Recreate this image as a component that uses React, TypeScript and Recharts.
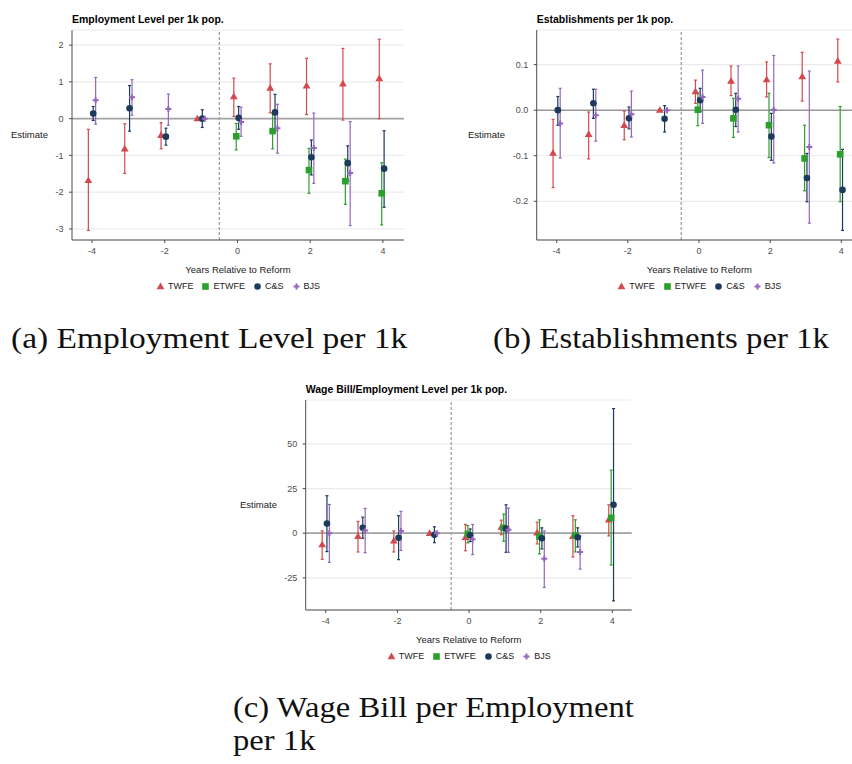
import React from 'react';
import { ComposedChart, Scatter, ErrorBar, XAxis, YAxis, CartesianGrid, ReferenceLine, Legend } from 'recharts';

const periods = [-4, -3, -2, -1, 0, 1, 2, 3, 4];
const methods = ['TWFE', 'ETWFE', 'C&S', 'BJS'];
const methodColors = ['#d2494f', '#2ca02c', '#1b3a5c', '#9467bd'];
const methodShift = [-0.1, -0.033, 0.033, 0.1];

// (a) employment level per 1k
const empTwfe = [-1.68, -0.82, -0.45, 0, 0.6, 0.83, 0.89, 0.95, 1.09];
const empTwfeLo = [-3.04, -1.49, -0.82, null, 0.06, 0.16, 0.11, -0.04, 0.0];
const empTwfeHi = [-0.29, -0.14, -0.11, null, 1.1, 1.49, 1.64, 1.91, 2.16];
const empEtwfe = [null, null, null, null, -0.48, -0.34, -1.4, -1.7, -2.03];
const empEtwfeLo = [null, null, null, null, -0.85, -0.82, -2.03, -2.33, -2.89];
const empEtwfeHi = [null, null, null, null, -0.13, 0.14, -0.81, -1.1, -1.2];
const empCs = [0.14, 0.28, -0.49, 0.0, 0.02, 0.17, -1.05, -1.21, -1.36];
const empCsLo = [-0.05, -0.34, -0.72, -0.24, -0.29, -0.34, -1.53, -1.69, -2.41];
const empCsHi = [0.33, 0.9, -0.26, 0.24, 0.33, 0.66, -0.58, -0.74, -0.33];
const empBjs = [0.5, 0.58, 0.26, 0, -0.09, -0.26, -0.8, -1.48, null];
const empBjsLo = [-0.15, 0.09, -0.18, null, -0.48, -0.94, -1.76, -2.91, null];
const empBjsHi = [1.12, 1.06, 0.67, null, 0.31, 0.39, 0.15, -0.08, null];

// (b) establishments per 1k
const estTwfe = [-0.094, -0.053, -0.033, 0, 0.041, 0.064, 0.067, 0.074, 0.108];
const estTwfeLo = [-0.17, -0.107, -0.065, null, 0.015, 0.032, 0.029, 0.02, 0.062];
const estTwfeHi = [-0.02, -0.004, -0.002, null, 0.066, 0.097, 0.106, 0.127, 0.156];
const estEtwfe = [null, null, null, null, 0.001, -0.018, -0.033, -0.106, -0.097];
const estEtwfeLo = [null, null, null, null, -0.034, -0.06, -0.104, -0.177, -0.201];
const estEtwfeHi = [null, null, null, null, 0.038, 0.026, 0.037, -0.033, 0.008];
const estCs = [0.0, 0.015, -0.018, -0.019, 0.022, 0.001, -0.058, -0.149, -0.175];
const estCsLo = [-0.033, -0.018, -0.041, -0.048, -0.003, -0.036, -0.11, -0.201, -0.264];
const estCsHi = [0.03, 0.046, 0.007, 0.01, 0.048, 0.037, -0.007, -0.095, -0.086];
const estBjs = [-0.029, -0.011, -0.009, 0, 0.029, 0.025, 0.001, -0.081, null];
const estBjsLo = [-0.105, -0.068, -0.059, null, -0.029, -0.048, -0.116, -0.248, null];
const estBjsHi = [0.048, 0.046, 0.042, null, 0.088, 0.097, 0.12, 0.086, null];

// (c) wage bill / employment
const wageTwfe = [-6.4, -1.7, -4.3, 0, -2.3, 3.4, 0.2, -1.7, 7.5];
const wageTwfeLo = [-14.6, -10.5, -10.5, null, -9.8, -0.8, -6.0, -13.3, -1.5];
const wageTwfeHi = [1.3, 6.6, 1.3, null, 4.9, 7.3, 6.2, 9.8, 15.9];
const wageEtwfe = [null, null, null, null, -0.4, 3.0, -1.9, -1.3, 8.6];
const wageEtwfeLo = [null, null, null, null, -5.4, -4.5, -11.6, -10.5, -17.8];
const wageEtwfeHi = [null, null, null, null, 4.3, 10.7, 7.5, 7.5, 35.3];
const wageCs = [5.4, 3.0, -2.6, -0.9, -1.1, 2.6, -2.8, -2.3, 15.9];
const wageCsLo = [-10.3, -2.8, -14.8, -5.3, -4.7, -10.7, -8.8, -7.7, -37.9];
const wageCsHi = [21.0, 9.0, 9.8, 3.6, 2.4, 15.9, 3.0, 3.0, 69.8];
const wageBjs = [0, 1.5, 1.3, 0, -3.4, 1.9, -14.3, -10.5, null];
const wageBjsLo = [-16.3, -10.9, -9.6, null, -12.0, -10.7, -30.4, -20.1, null];
const wageBjsHi = [16.1, 13.9, 12.2, null, 4.9, 14.1, 1.3, -1.5, null];

const xTicks = [-4, -2, 0, 2, 4];
const empTicks = [-3, -2, -1, 0, 1, 2];
const estTicks = [-0.2, -0.1, 0, 0.1];
const wageTicks = [-25, 0, 25, 50];

const FONT = '"Liberation Sans", Arial, Helvetica, sans-serif';
const SERIF = '"Liberation Serif", "Times New Roman", serif';

function toPoints(est, lo, hi, shift) {
  return periods.flatMap((t, i) =>
    est[i] == null
      ? []
      : [{ x: t + shift, y: est[i], err: lo[i] == null ? null : [est[i] - lo[i], hi[i] - est[i]] }]
  );
}

function Marker({ kind, cx, cy, fill }) {
  if (kind === 0) {
    return <polygon points={`${cx},${cy - 4} ${cx + 3.9},${cy + 2.7} ${cx - 3.9},${cy + 2.7}`} fill={fill} />;
  }
  if (kind === 1) return <rect x={cx - 3.3} y={cy - 3.3} width={6.6} height={6.6} fill={fill} />;
  if (kind === 2) return <circle cx={cx} cy={cy} r={3.3} fill={fill} />;
  return <path d={`M${cx - 3},${cy}H${cx + 3}M${cx},${cy - 3}V${cy + 3}`} stroke={fill} strokeWidth={2} />;
}

function LegendRow() {
  return (
    <div style={{ display: 'flex', justifyContent: 'center', alignItems: 'center', height: 14, fontFamily: FONT, fontSize: 9, color: '#1a1a1a' }}>
      {methods.map((m, i) => (
        <div key={m} style={{ display: 'flex', alignItems: 'center', marginLeft: i ? 8 : 0 }}>
          <svg width={9} height={9} style={{ marginRight: 3 }}>
            <Marker kind={i} cx={4.5} cy={4.5} fill={methodColors[i]} />
          </svg>
          <span>{m}</span>
        </div>
      ))}
    </div>
  );
}

function Panel({ cfg }) {
  const plotLeft = cfg.margin.left + cfg.yAxisWidth;
  const plotWidth = cfg.width - plotLeft - cfg.margin.right;
  return (
    <div style={{ position: 'absolute', left: cfg.left, top: cfg.top, width: cfg.width, height: cfg.height }}>
      <div style={{ position: 'absolute', left: plotLeft, top: 13, fontFamily: FONT, fontWeight: 'bold', fontSize: 10.5, lineHeight: '12px', whiteSpace: 'nowrap', color: '#000' }}>
        {cfg.title}
      </div>
      <ComposedChart width={cfg.width} height={cfg.height} margin={cfg.margin}>
        <CartesianGrid vertical={false} stroke="#ebebeb" strokeWidth={1.2} />
        <XAxis
          type="number"
          dataKey="x"
          domain={cfg.xDomain}
          ticks={xTicks}
          allowDataOverflow
          height={46}
          tickSize={3}
          tickMargin={5}
          stroke="#4d4d4d"
          tick={{ fill: '#4d4d4d', fontSize: 9, fontFamily: FONT }}
          label={{ value: 'Years Relative to Reform', position: 'insideBottom', offset: 13.5, fill: '#1a1a1a', fontSize: 9.5, fontFamily: FONT }}
        />
        <YAxis
          type="number"
          dataKey="y"
          domain={cfg.yDomain}
          ticks={cfg.yTicks}
          allowDataOverflow
          width={cfg.yAxisWidth}
          tickSize={3}
          tickMargin={5.5}
          tickFormatter={cfg.fmt}
          stroke="#4d4d4d"
          tick={{ fill: '#4d4d4d', fontSize: 9, fontFamily: FONT }}
          label={{ value: 'Estimate', position: 'insideLeft', angle: 0, offset: cfg.labelOffset, fill: '#1a1a1a', fontSize: 9.5, fontFamily: FONT }}
        />
        <ReferenceLine x={-0.5} stroke="#777" strokeDasharray="3 2" strokeWidth={0.9} />
        <ReferenceLine y={0} stroke={cfg.zeroStroke} strokeWidth={cfg.zeroWidth} />
        {cfg.series.map((s, i) => (
          <Scatter
            key={methods[i]}
            name={methods[i]}
            data={toPoints(s[0], s[1], s[2], methodShift[i])}
            dataKey="y"
            fill={methodColors[i]}
            isAnimationActive={false}
            shape={(p) => <Marker kind={i} cx={p.cx} cy={p.cy} fill={methodColors[i]} />}
          >
            <ErrorBar dataKey="err" direction="y" width={1.5} stroke={methodColors[i]} strokeWidth={1.2} isAnimationActive={false} />
          </Scatter>
        ))}
        <Legend content={() => <LegendRow />} wrapperStyle={{ top: 279, left: plotLeft, width: plotWidth, height: 14 }} />
      </ComposedChart>
    </div>
  );
}

const panelA = {
  title: 'Employment Level per 1k pop.',
  left: 0, top: 0, width: 420, height: 300,
  margin: { top: 30, right: 16, left: 10, bottom: 0 },
  yAxisWidth: 62, labelOffset: 1,
  xDomain: [-4.55, 4.58], yDomain: [-3.3, 2.41], yTicks: empTicks,
  fmt: (v) => String(v),
  zeroStroke: '#a3a3a3', zeroWidth: 1.8,
  series: [
    [empTwfe, empTwfeLo, empTwfeHi],
    [empEtwfe, empEtwfeLo, empEtwfeHi],
    [empCs, empCsLo, empCsHi],
    [empBjs, empBjsLo, empBjsHi],
  ],
};

const panelB = {
  title: 'Establishments per 1k pop.',
  left: 430, top: 0, width: 450, height: 300,
  margin: { top: 30, right: 18, left: 38, bottom: 0 },
  yAxisWidth: 68.7, labelOffset: 0,
  xDomain: [-4.56, 4.58], yDomain: [-0.285, 0.176], yTicks: estTicks,
  fmt: (v) => v.toFixed(1),
  zeroStroke: '#707070', zeroWidth: 1,
  series: [
    [estTwfe, estTwfeLo, estTwfeHi],
    [estEtwfe, estEtwfeLo, estEtwfeHi],
    [estCs, estCsLo, estCsHi],
    [estBjs, estBjsLo, estBjsHi],
  ],
};

const panelC = {
  title: 'Wage Bill/Employment Level per 1k pop.',
  left: 240, top: 370, width: 400, height: 300,
  margin: { top: 30, right: 8.3, left: 0, bottom: 0 },
  yAxisWidth: 65.7, labelOffset: 0,
  xDomain: [-4.56, 4.54], yDomain: [-43, 74.6], yTicks: wageTicks,
  fmt: (v) => String(v),
  zeroStroke: '#a3a3a3', zeroWidth: 1.8,
  series: [
    [wageTwfe, wageTwfeLo, wageTwfeHi],
    [wageEtwfe, wageEtwfeLo, wageEtwfeHi],
    [wageCs, wageCsLo, wageCsHi],
    [wageBjs, wageBjsLo, wageBjsHi],
  ],
};

const captionStyle = {
  position: 'absolute',
  fontFamily: SERIF,
  fontSize: 29,
  lineHeight: '34px',
  color: '#111',
  whiteSpace: 'nowrap',
  transformOrigin: 'left top',
};

export default function App() {
  return (
    <div style={{ position: 'absolute', left: 0, top: 0, width: 852, height: 764, overflow: 'hidden', background: '#fff' }}>
      <Panel cfg={panelA} />
      <Panel cfg={panelB} />
      <Panel cfg={panelC} />
      <div style={{ ...captionStyle, left: 11, top: 321, transform: 'scaleX(1.155)' }}>(a) Employment Level per 1k</div>
      <div style={{ ...captionStyle, left: 493, top: 321, transform: 'scaleX(1.13)' }}>(b) Establishments per 1k</div>
      <div style={{ ...captionStyle, left: 233, top: 691, lineHeight: '33px', transform: 'scaleX(1.125)' }}>
        (c) Wage Bill per Employment
        <br />
        per 1k
      </div>
    </div>
  );
}
